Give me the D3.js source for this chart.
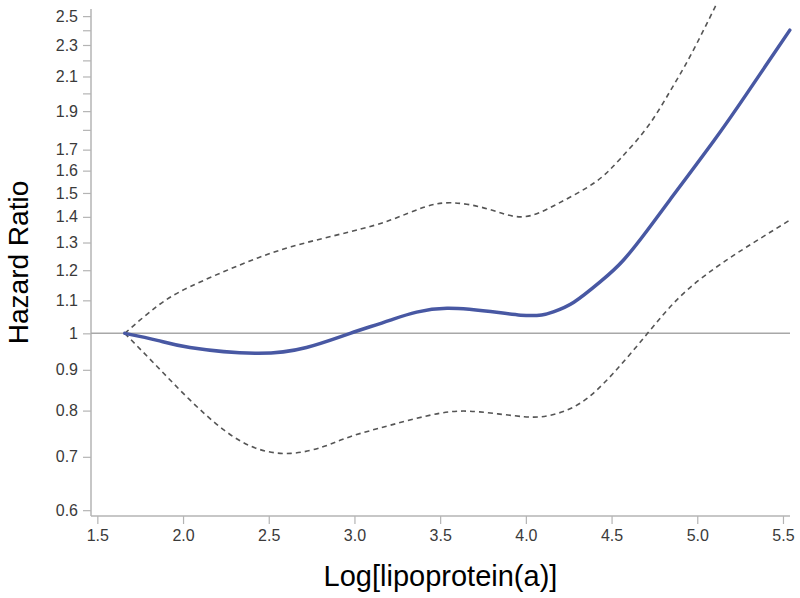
<!DOCTYPE html>
<html>
<head>
<meta charset="utf-8">
<script src="https://cdn.jsdelivr.net/npm/d3@7/dist/d3.min.js"></script>
<style>
  html, body { margin: 0; padding: 0; background: #fff; }
  svg { display: block; font-family: Arial, "Liberation Sans", sans-serif; }
</style>
</head>
<body>
<svg id="chart" width="800" height="598"></svg>
<script>
// ---- Data ----
const fitX  = [1.66, 1.85, 2.04, 2.42, 2.72, 2.975, 3.21, 3.54, 3.97, 4.16, 4.28, 4.435, 4.57, 4.71, 4.84, 5.10, 5.29, 5.54];
const fitHR = [1.0, 0.980, 0.960, 0.944, 0.960, 1.0, 1.039, 1.075, 1.054, 1.064, 1.094, 1.161, 1.236, 1.348, 1.470, 1.748, 2.000, 2.401];

const upperX  = [1.66, 1.85, 2.04, 2.33, 2.63, 2.975, 3.21, 3.40, 3.57, 3.78, 3.98, 4.18, 4.40, 4.55, 4.71, 4.84, 4.96, 5.10, 5.20];
const upperHR = [1.0, 1.082, 1.144, 1.218, 1.284, 1.341, 1.387, 1.438, 1.458, 1.432, 1.400, 1.452, 1.545, 1.655, 1.816, 2.010, 2.230, 2.557, 2.83];

const lowerX  = [1.66, 1.85, 2.04, 2.24, 2.43, 2.63, 2.82, 2.975, 3.21, 3.50, 3.73, 3.99, 4.15, 4.32, 4.51, 4.71, 4.90, 5.10, 5.29, 5.54];
const lowerHR = [1.0, 0.908, 0.825, 0.756, 0.717, 0.707, 0.721, 0.742, 0.767, 0.794, 0.797, 0.786, 0.790, 0.818, 0.891, 1.0, 1.112, 1.206, 1.284, 1.387];

const xTicks = [1.5, 2.0, 2.5, 3.0, 3.5, 4.0, 4.5, 5.0, 5.5];
const yTicksLabeled = [0.6, 0.7, 0.8, 0.9, 1, 1.1, 1.2, 1.3, 1.4, 1.5, 1.6, 1.7, 1.9, 2.1, 2.3, 2.5];
const yTicksMinor = [1.8, 2.0, 2.2, 2.4];
const xDomain = [1.463, 5.541];
const yDomain = [0.590, 2.552];
const refValue = 1;
const xTitle = "Log[lipoprotein(a)]";
const yTitle = "Hazard Ratio";

// ---- Layout ----
const L = 91, R = 790, T = 9, B = 516;
const svg = d3.select("#chart");

const x = d3.scaleLinear().domain(xDomain).range([L, R]);
const y = d3.scaleLog().domain(yDomain).range([B, T]);

const axisColor = "#b4b4b4";
const textColor = "#3a3a3a";

// clip
svg.append("defs").append("clipPath").attr("id", "plotclip")
  .append("rect").attr("x", L).attr("y", 3).attr("width", R - L + 2).attr("height", B - 3);

// Y axis
const yAxis = d3.axisLeft(y)
  .tickValues(yTicksLabeled.concat(yTicksMinor))
  .tickSize(8).tickPadding(5)
  .tickFormat(d => yTicksMinor.includes(d) ? "" : (d === 1 ? "1" : d3.format(".1f")(d)));
const gy = svg.append("g").attr("transform", `translate(${L},0)`).call(yAxis);
gy.select(".domain").attr("stroke", axisColor).attr("stroke-width", 1.5).attr("d", `M0,${T}V${B}`);
gy.selectAll(".tick line").attr("stroke", axisColor).attr("stroke-width", 1.2);
gy.selectAll(".tick text").attr("fill", textColor).style("font-size", "16px")
  .style("font-family", "Arial, 'Liberation Sans', sans-serif");

// X axis
const xAxis = d3.axisBottom(x).tickValues(xTicks).tickSize(8).tickPadding(6)
  .tickFormat(d3.format(".1f"));
const gx = svg.append("g").attr("transform", `translate(0,${B})`).call(xAxis);
gx.select(".domain").attr("stroke", axisColor).attr("stroke-width", 1.5).attr("d", `M${L},0H${R}`);
gx.selectAll(".tick line").attr("stroke", axisColor).attr("stroke-width", 1.2);
gx.selectAll(".tick text").attr("fill", textColor).style("font-size", "16px")
  .style("font-family", "Arial, 'Liberation Sans', sans-serif");

// Reference line at HR = 1
svg.append("line")
  .attr("x1", L).attr("x2", R)
  .attr("y1", y(refValue)).attr("y2", y(refValue))
  .attr("stroke", "#a8a8a8").attr("stroke-width", 1.5);

const line = d3.line().x(d => x(d[0])).y(d => y(d[1])).curve(d3.curveNatural);
const plot = svg.append("g").attr("clip-path", "url(#plotclip)");

plot.append("path").datum(d3.zip(upperX, upperHR))
  .attr("d", line).attr("fill", "none")
  .attr("stroke", "#555").attr("stroke-width", 1.6).attr("stroke-dasharray", "5,4");
plot.append("path").datum(d3.zip(lowerX, lowerHR))
  .attr("d", line).attr("fill", "none")
  .attr("stroke", "#555").attr("stroke-width", 1.6).attr("stroke-dasharray", "5,4");
plot.append("path").datum(d3.zip(fitX, fitHR))
  .attr("d", line).attr("fill", "none")
  .attr("stroke", "#4858a3").attr("stroke-width", 3.5).attr("stroke-linecap", "round");

// Titles
svg.append("text")
  .attr("x", (L + R) / 2).attr("y", 586)
  .attr("text-anchor", "middle")
  .style("font-size", "29px").attr("fill", "#000")
  .text(xTitle);

svg.append("text")
  .attr("transform", `translate(28,${(T + B) / 2}) rotate(-90)`)
  .attr("text-anchor", "middle")
  .style("font-size", "28px").attr("fill", "#000")
  .text(yTitle);
</script>
</body>
</html>
